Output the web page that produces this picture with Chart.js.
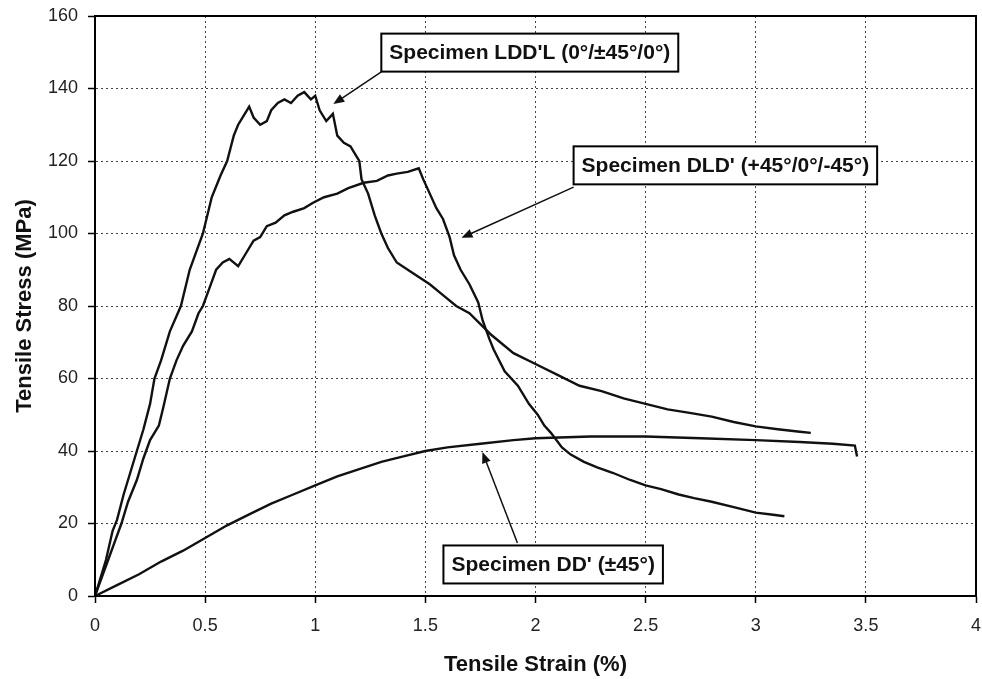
<!DOCTYPE html>
<html>
<head>
<meta charset="utf-8">
<title>Tensile stress-strain</title>
<script src="https://cdn.jsdelivr.net/npm/chart.js@4.4.0/dist/chart.umd.min.js"></script>
<style>
    html, body { margin: 0; padding: 0; background: #fff; }
    #wrap { width: 982px; height: 679px; }
</style>
</head>
<body>
<div id="wrap"><canvas id="stress-strain" width="982" height="679"></canvas></div>
<script>
(function () {
    "use strict";

    // Specimen LDD'L (0/±45/0)
    var strainLDDL = [0, 0.02, 0.05, 0.08, 0.1, 0.13, 0.16, 0.19, 0.22, 0.25, 0.27, 0.3, 0.34, 0.39, 0.43, 0.46, 0.49,
        0.53, 0.57, 0.6, 0.63, 0.65, 0.68, 0.7, 0.72, 0.75, 0.78, 0.8, 0.83, 0.86, 0.89, 0.92, 0.95, 0.98, 1.0,
        1.02, 1.05, 1.08, 1.1, 1.13, 1.16, 1.19, 1.2, 1.21, 1.24, 1.27, 1.3, 1.33, 1.37, 1.42, 1.47, 1.52, 1.58,
        1.64, 1.7, 1.75, 1.8, 1.9, 2.0, 2.1, 2.2, 2.3, 2.4, 2.5, 2.6, 2.7, 2.8, 2.9, 3.0, 3.1, 3.2, 3.25];
    var stressLDDL = [0, 4, 10, 18, 21, 28, 34, 40, 46, 53, 60, 65, 73, 80, 90, 95, 100,
        110, 116, 120, 127, 130, 133, 135, 132, 130, 131, 134, 136, 137, 136, 138, 139, 137, 138,
        134, 131, 133, 127, 125, 124, 121, 120, 115, 111, 105, 100, 96, 92, 90, 88, 86, 83,
        80, 78, 75, 72, 67, 64, 61, 58, 56.5, 54.5, 53, 51.5, 50.5, 49.5, 48, 46.8, 46, 45.3, 45];

    // Specimen DLD' (+45/0/-45)
    var strainDLD = [0, 0.03, 0.06, 0.09, 0.12, 0.15, 0.19, 0.22, 0.25, 0.29, 0.31, 0.34, 0.37, 0.4, 0.44, 0.47,
        0.49, 0.52, 0.55, 0.58, 0.61, 0.65, 0.68, 0.72, 0.75, 0.78, 0.82, 0.86, 0.9, 0.95, 0.99, 1.04, 1.1,
        1.15, 1.22, 1.28, 1.33, 1.37, 1.42, 1.47, 1.49, 1.52, 1.55, 1.58, 1.61, 1.63, 1.66, 1.7, 1.74, 1.76,
        1.79, 1.81, 1.86, 1.92, 1.97, 2.01, 2.04, 2.07, 2.12, 2.16, 2.22, 2.28, 2.35, 2.43, 2.5, 2.57, 2.65,
        2.72, 2.8, 2.9, 3.0, 3.07, 3.13];
    var stressDLD = [0, 5, 10, 15, 20, 26, 32, 38, 43, 47, 52, 60, 65, 69, 73, 78,
        80, 85, 90, 92, 93, 91, 94, 98, 99, 102, 103, 105, 106, 107, 108.5, 110, 111,
        112.5, 114, 114.5, 116, 116.5, 117, 118, 115, 111, 107, 104, 99, 94, 90, 86, 81, 76,
        71, 68, 62, 58, 53, 50, 47, 45, 41, 39, 37, 35.5, 34, 32, 30.5, 29.5, 28,
        27, 26, 24.5, 23, 22.5, 22];

    // Specimen DD' (±45)
    var strainDD = [0, 0.1, 0.2, 0.3, 0.4, 0.5, 0.6, 0.7, 0.8, 0.9, 1.0, 1.1, 1.2, 1.3, 1.4, 1.5, 1.6, 1.75,
        1.9, 2.0, 2.25, 2.5, 2.75, 3.0, 3.2, 3.35, 3.45, 3.46];
    var stressDD = [0, 3, 6, 9.5, 12.5, 16, 19.5, 22.5, 25.5, 28, 30.5, 33, 35, 37, 38.5, 40, 41, 42,
        43, 43.5, 44, 44, 43.5, 43, 42.5, 42, 41.5, 38.5];

    var xTicks = [0, 0.5, 1, 1.5, 2, 2.5, 3, 3.5, 4];
    var xTickLabels = ['0', '0.5', '1', '1.5', '2', '2.5', '3', '3.5', '4'];
    var yTicks = [0, 20, 40, 60, 80, 100, 120, 140, 160];

    // callouts: label, box left/middle (strain, stress), arrow start, arrow tip
    var calloutText = ["Specimen LDD'L (0\u00b0/\u00b145\u00b0/0\u00b0)",
        "Specimen DLD' (+45\u00b0/0\u00b0/-45\u00b0)",
        "Specimen DD' (\u00b145\u00b0)"];
    var calloutBox = [[1.3, 149.9], [2.173, 118.8], [1.582, 8.7]];
    var calloutFrom = [[1.3, 144.6], [2.173, 112.8], [1.918, 14.6]];
    var calloutTip = [[1.082, 135.7], [1.664, 98.8], [1.759, 39.7]];

    var FONT = '"Liberation Sans", Arial, Helvetica, sans-serif';

    function pairs(xs, ys) {
        return xs.map(function (x, i) { return { x: x, y: ys[i] }; });
    }

    function curve(label, xs, ys) {
        return {
            label: label,
            data: pairs(xs, ys),
            borderColor: '#111',
            borderWidth: 2.4,
            pointRadius: 0,
            tension: 0,
            fill: false
        };
    }

    // frame around the plot plus the boxed callouts with arrows
    var calloutPlugin = {
        id: 'callouts',
        afterDatasetsDraw: function (chart) {
            var ctx = chart.ctx;
            var area = chart.chartArea;
            var sx = chart.scales.x, sy = chart.scales.y;

            ctx.save();
            ctx.strokeStyle = '#000';
            ctx.lineWidth = 2;
            ctx.strokeRect(area.left, area.top, area.right - area.left, area.bottom - area.top);

            ctx.font = 'bold 21px ' + FONT;
            ctx.textBaseline = 'middle';
            ctx.textAlign = 'left';

            calloutText.forEach(function (txt, i) {
                var x0 = sx.getPixelForValue(calloutFrom[i][0]);
                var y0 = sy.getPixelForValue(calloutFrom[i][1]);
                var x1 = sx.getPixelForValue(calloutTip[i][0]);
                var y1 = sy.getPixelForValue(calloutTip[i][1]);
                var ang = Math.atan2(y1 - y0, x1 - x0);

                ctx.strokeStyle = '#111';
                ctx.fillStyle = '#111';
                ctx.lineWidth = 1.5;
                ctx.beginPath();
                ctx.moveTo(x0, y0);
                ctx.lineTo(x1 - 8 * Math.cos(ang), y1 - 8 * Math.sin(ang));
                ctx.stroke();
                ctx.beginPath();
                ctx.moveTo(x1, y1);
                ctx.lineTo(x1 - 11 * Math.cos(ang) + 4.5 * Math.sin(ang), y1 - 11 * Math.sin(ang) - 4.5 * Math.cos(ang));
                ctx.lineTo(x1 - 11 * Math.cos(ang) - 4.5 * Math.sin(ang), y1 - 11 * Math.sin(ang) + 4.5 * Math.cos(ang));
                ctx.closePath();
                ctx.fill();

                var bx = sx.getPixelForValue(calloutBox[i][0]);
                var by = sy.getPixelForValue(calloutBox[i][1]);
                var w = ctx.measureText(txt).width + 16;
                var h = 38;
                ctx.fillStyle = '#fff';
                ctx.fillRect(bx, by - h / 2, w, h);
                ctx.strokeStyle = '#000';
                ctx.lineWidth = 2;
                ctx.strokeRect(bx, by - h / 2, w, h);
                ctx.fillStyle = '#111';
                ctx.fillText(txt, bx + 8, by + 1);
            });
            ctx.restore();
        }
    };

    var ctx = document.getElementById('stress-strain').getContext('2d');
    var chart = new Chart(ctx, {
        type: 'line',
        data: {
            datasets: [
                curve("Specimen LDD'L", strainLDDL, stressLDDL),
                curve("Specimen DLD'", strainDLD, stressDLD),
                curve("Specimen DD'", strainDD, stressDD)
            ]
        },
        options: {
            responsive: false,
            animation: false,
            devicePixelRatio: 1,
            layout: { padding: { left: 0, right: 6, top: 16, bottom: 0 } },
            plugins: {
                legend: { display: false },
                tooltip: { enabled: false }
            },
            scales: {
                x: {
                    type: 'linear',
                    min: 0,
                    max: 4,
                    afterBuildTicks: function (scale) {
                        scale.ticks = xTicks.map(function (v) { return { value: v }; });
                    },
                    afterFit: function (scale) {
                        scale.height = 83;
                        scale.paddingLeft = 0;
                        scale.paddingRight = 0;
                    },
                    grid: { color: '#444', lineWidth: 1, tickLength: 7, tickColor: '#000', tickWidth: 1.5 },
                    border: { display: true, color: '#000', width: 2, dash: [2, 3] },
                    ticks: {
                        padding: 12,
                        color: '#222',
                        font: { family: FONT, size: 18 },
                        maxRotation: 0,
                        callback: function (v, i) { return xTickLabels[i]; }
                    },
                    title: {
                        display: true,
                        text: 'Tensile Strain (%)',
                        color: '#111',
                        font: { family: FONT, size: 22, weight: 'bold' },
                        padding: { top: 0, bottom: 1 }
                    }
                },
                y: {
                    type: 'linear',
                    min: 0,
                    max: 160,
                    afterBuildTicks: function (scale) {
                        scale.ticks = yTicks.map(function (v) { return { value: v }; });
                    },
                    afterFit: function (scale) {
                        scale.width = 95;
                        scale.paddingTop = 0;
                        scale.paddingBottom = 0;
                    },
                    grid: { color: '#444', lineWidth: 1, tickLength: 7, tickColor: '#000', tickWidth: 1.5 },
                    border: { display: true, color: '#000', width: 2, dash: [2, 3] },
                    ticks: {
                        padding: 10,
                        color: '#222',
                        font: { family: FONT, size: 18 },
                        callback: function (v) { return String(v); }
                    },
                    title: {
                        display: true,
                        text: 'Tensile Stress (MPa)',
                        color: '#111',
                        font: { family: FONT, size: 22, weight: 'bold' },
                        padding: { top: 12, bottom: 0 }
                    }
                }
            }
        },
        plugins: [calloutPlugin]
    });
})();
</script>
</body>
</html>
